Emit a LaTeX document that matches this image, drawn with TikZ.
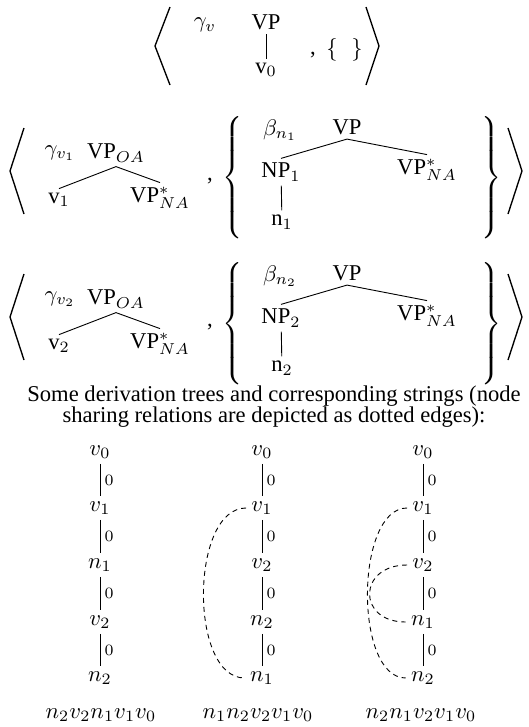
\documentclass[tikz,border=0pt]{standalone}
\usepackage{fontspec}
\setmainfont{Liberation Serif}
\begin{document}
\begin{tikzpicture}[x={(0.4425pt,0pt)},y={(0pt,-0.4425pt)},
  lab/.style={inner sep=0pt},
  tn/.style={inner sep=1.8pt},
  dn/.style={inner sep=2.2pt},
  br/.style={line width=0.6pt},
  edgel/.style={line width=0.4pt},
  share/.style={line width=0.4pt,dash pattern=on 2.2pt off 1.8pt},
  zlab/.style={right,inner sep=1.8pt,font=\scriptsize}]
\useasboundingbox (0,0) rectangle (529,727);
% ---- row 1
\draw[br] (170,7) -- (155,46) -- (170,85);
\draw[br] (366,7) -- (379,46) -- (366,85);
\node[lab] (g0) at (205,25) {$\gamma_v$};
\node[tn] (vp0) at (266,22) {VP};
\node[tn] (v0) at (266,70) {v$_0$};
\draw[edgel] (vp0) -- (v0);
\node[lab,anchor=base] (c0) at (313,54) {,};
\node[lab] (ob0) at (332,50) {$\{$};
\node[lab] (cb0) at (357,50) {$\}$};
% ---- rows 2 and 3
\foreach \i/\dy in {1/0,2/146}{
  \draw[br] (24,128+\dy) -- (10,171+\dy) -- (24,214+\dy);
  \draw[br] (508,128+\dy) -- (522,171+\dy) -- (508,214+\dy);
  \node[lab] (g\i) at (60,153+\dy) {$\gamma_{v_\i}$};
  \node[tn] (oa\i) at (116,153+\dy) {VP$_{OA}$};
  \node[tn] (lv\i) at (59,200+\dy) {v$_\i$};
  \node[tn] (na\i) at (160,198+\dy) {VP$^*_{NA}$};
  \draw[edgel] (oa\i.south) -- (lv\i.north);
  \draw[edgel] (oa\i.south) -- (na\i.north);
  \node[lab,anchor=base] (c\i) at (210,180+\dy) {,};
  \node[lab] (lb\i) at (234,178+\dy) {$\delimitershortfall=0pt\delimiterfactor=1000\left\{\vcenter{\hbox{\rule{0pt}{51pt}}}\right.$};
  \node[lab] (b\i) at (280,130+\dy) {$\beta_{n_\i}$};
  \node[tn] (vp\i) at (347,127+\dy) {VP};
  \node[tn] (np\i) at (281,172+\dy) {NP$_\i$};
  \node[tn] (nb\i) at (427,170+\dy) {VP$^*_{NA}$};
  \node[tn] (n\i) at (282,222+\dy) {n$_\i$};
  \draw[edgel] (vp\i.south) -- (np\i.north);
  \draw[edgel] (vp\i.south) -- (nb\i.north);
  \draw[edgel] (np\i) -- (n\i);
  \node[lab] (rb\i) at (490,178+\dy) {$\delimitershortfall=0pt\delimiterfactor=1000\left.\vcenter{\hbox{\rule{0pt}{51pt}}}\right\}$};
}
% ---- caption
\node[lab] (cap1) at (274,396) {Some derivation trees and corresponding strings (node};
\node[lab] (cap2) at (274,417) {sharing relations are depicted as dotted edges):};
% ---- derivation trees
\node[dn] (ta1) at (100,452) {$v_0$};
\node[dn] (ta2) at (100,508) {$v_1$};
\node[dn] (ta3) at (100,565) {$n_1$};
\node[dn] (ta4) at (100,622) {$v_2$};
\node[dn] (ta5) at (100,678) {$n_2$};
\node[dn] (tb1) at (262,452) {$v_0$};
\node[dn] (tb2) at (262,508) {$v_1$};
\node[dn] (tb3) at (262,565) {$v_2$};
\node[dn] (tb4) at (262,622) {$n_2$};
\node[dn] (tb5) at (262,678) {$n_1$};
\node[dn] (tc1) at (423,452) {$v_0$};
\node[dn] (tc2) at (423,508) {$v_1$};
\node[dn] (tc3) at (423,565) {$v_2$};
\node[dn] (tc4) at (423,622) {$n_1$};
\node[dn] (tc5) at (423,678) {$n_2$};
\foreach \t in {a,b,c}{
  \draw[edgel] (t\t1) -- node[zlab]{$0$} (t\t2);
  \draw[edgel] (t\t2) -- node[zlab]{$0$} (t\t3);
  \draw[edgel] (t\t3) -- node[zlab]{$0$} (t\t4);
  \draw[edgel] (t\t4) -- node[zlab]{$0$} (t\t5);
}
\draw[share] (tb2.west) to[out=180,in=180,looseness=0.84] (tb5.west);
\draw[share] (tc2.west) to[out=180,in=180,looseness=0.78] (tc5.west);
\draw[share] (tc3.west) to[out=180,in=180,looseness=2.2] (tc4.west);
% ---- strings
\node[lab] (sa) at (101,715) {$n_2v_2n_1v_1v_0$};
\node[lab] (sb) at (258,715) {$n_1n_2v_2v_1v_0$};
\node[lab] (sc) at (421,715) {$n_2n_1v_2v_1v_0$};
\end{tikzpicture}
\end{document}
